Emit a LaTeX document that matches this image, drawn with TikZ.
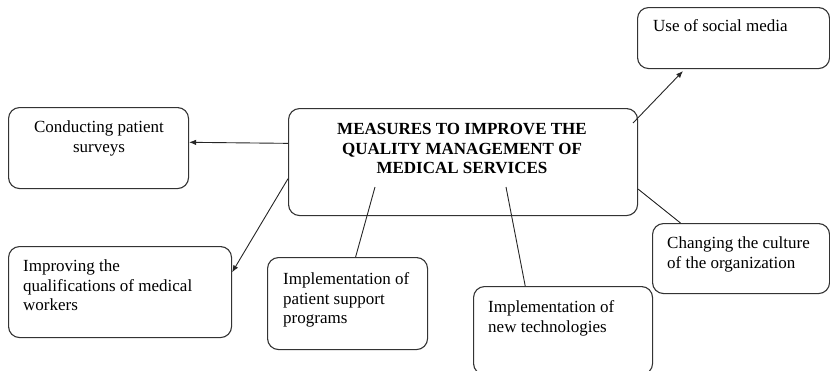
\documentclass[tikz,border=0pt]{standalone}
\usepackage{fontspec}
\setmainfont{Liberation Serif}
\usetikzlibrary{calc,arrows.meta}
\begin{document}
\begin{tikzpicture}[x=1pt,y=-1pt,
  box/.style={draw=black!80, line width=1.1pt, rounded corners=11pt, inner sep=0pt, anchor=north west},
  lbl/.style={font=\fontsize{17}{19.5}\selectfont, align=left, inner sep=0pt, anchor=north west},
  conn/.style={draw=black!85, line width=0.9pt},
  arr/.style={conn, -{Latex[length=7pt,width=5.5pt]}}]
\useasboundingbox (0,0) rectangle (830,370);
% boxes
\node[box, minimum width=349pt, minimum height=107pt] (c) at (288,108) {};
\node[box, minimum width=180pt, minimum height=81pt] (sur) at (8,107) {};
\node[box, minimum width=223pt, minimum height=91pt] (imp) at (8,246) {};
\node[box, minimum width=160pt, minimum height=92pt] (pat) at (267,257) {};
\node[box, minimum width=179pt, minimum height=88pt] (tech) at (473,286) {};
\node[box, minimum width=177pt, minimum height=70pt] (cul) at (652,223) {};
\node[box, minimum width=192pt, minimum height=61pt] (soc) at (637,7) {};
% texts
\node[lbl, anchor=north, align=center, font=\fontsize{17}{19.5}\selectfont\bfseries] (ct) at (462,123.5) {MEASURES TO IMPROVE THE\\QUALITY MANAGEMENT OF\\MEDICAL SERVICES};
\node[lbl, anchor=north, align=center] (surt) at (99,121) {Conducting patient\\surveys};
\node[lbl] (impt) at (23,259.5) {Improving the\\qualifications of medical\\workers};
\node[lbl] (patt) at (283,272.5) {Implementation of\\patient support\\programs};
\node[lbl] (techt) at (488,300.5) {Implementation of\\new technologies};
\node[lbl] (cult) at (667,236.5) {Changing the culture\\of the organization};
\node[lbl] (soct) at (653,19.5) {Use of social media};
% connector end points
\coordinate (c1) at ($(c.north west)!0.327!(c.south west)$);
\coordinate (s1) at ($(sur.north east)!0.43!(sur.south east)$);
\coordinate (c2) at ($(c.north west)!0.654!(c.south west)$);
\coordinate (i1) at ($(imp.north east)!0.286!(imp.south east)$);
\coordinate (c3) at (375,187);
\coordinate (p1) at ($(pat.north west)!0.55!(pat.north east)$);
\coordinate (c4) at (506,187);
\coordinate (t1) at ($(tech.north west)!0.29!(tech.north east)$);
\coordinate (c5) at ($(c.north east)!0.75!(c.south east)$);
\coordinate (u1) at ($(cul.north west)!0.16!(cul.north east)$);
\coordinate (c6) at (633,123);
\coordinate (m1) at (683,71);
% connectors
\draw[arr] (c1) -- (s1);
\draw[arr] (c2) -- (i1);
\draw[conn] (c3) -- (p1);
\draw[conn] (c4) -- (t1);
\draw[conn] (c5) -- (u1);
\draw[arr] (c6) -- (m1);
\end{tikzpicture}
\end{document}
